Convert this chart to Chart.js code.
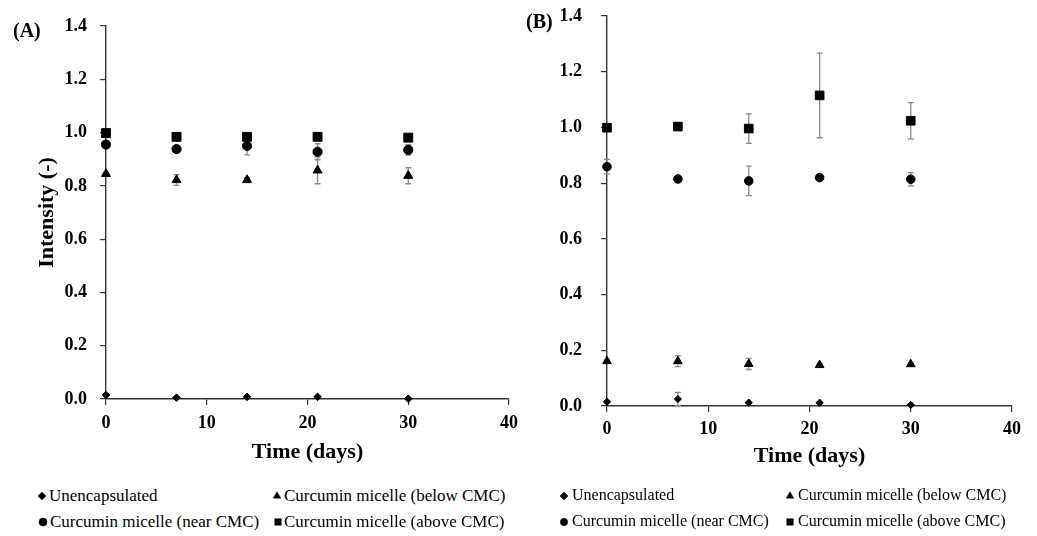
<!DOCTYPE html>
<html>
<head>
<meta charset="utf-8">
<script src="https://cdn.jsdelivr.net/npm/chart.js@4/dist/chart.umd.min.js"></script>
<style>
  html, body { margin: 0; padding: 0; background: #fff; }
  #wrap { position: relative; width: 1037px; height: 536px; overflow: hidden; background: #fff; }
  canvas { position: absolute; top: 0; }
  .panel-label { position: absolute; font: bold 20px "Liberation Serif", "Times New Roman", serif; color: #000; line-height: 1; }
  .leg { position: absolute; font-family: "Liberation Serif", "Times New Roman", serif; color: #000; white-space: nowrap; line-height: 1; }
</style>
</head>
<body>
<div id="wrap">
  <canvas id="chartA" width="518" height="470" style="left:0px"></canvas>
  <canvas id="chartB" width="519" height="470" style="left:518px"></canvas>
  <div class="panel-label" style="left:13px; top:20px">(A)</div>
  <div class="panel-label" style="left:526px; top:11px">(B)</div>
</div>
<script>
// ---------- data ----------
const days = [0, 7, 14, 21, 30];
const seriesNames = ['Unencapsulated', 'Curcumin micelle (below CMC)', 'Curcumin micelle (near CMC)', 'Curcumin micelle (above CMC)'];
const xTickLabels = ['0', '10', '20', '30', '40'];
const yTickLabels = ['0.0', '0.2', '0.4', '0.6', '0.8', '1.0', '1.2', '1.4'];

// Panel (A)
const aUnencap = [0.015, 0.005, 0.008, 0.008, 0.001];
const aBelow   = [0.845, 0.822, 0.822, 0.858, 0.838];
const aNear    = [0.955, 0.938, 0.950, 0.928, 0.935];
const aAbove   = [0.998, 0.984, 0.984, 0.984, 0.981];
const aUnencapErr = [0.003, 0.003, 0.003, 0.003, 0.003];
const aBelowErr   = [0.005, 0.020, 0.008, 0.050, 0.030];
const aNearErr    = [0.005, 0.005, 0.034, 0.030, 0.020];
const aAboveErr   = [0.002, 0.005, 0.010, 0.005, 0.005];

// Panel (B)
const bUnencap = [0.015, 0.025, 0.012, 0.012, 0.004];
const bBelow   = [0.161, 0.161, 0.151, 0.147, 0.150];
const bNear    = [0.859, 0.815, 0.808, 0.820, 0.814];
const bAbove   = [0.999, 1.003, 0.996, 1.115, 1.024];
const bUnencapErr = [0.004, 0.024, 0.004, 0.004, 0.003];
const bBelowErr   = [0.005, 0.020, 0.020, 0.006, 0.006];
const bNearErr    = [0.026, 0.006, 0.053, 0.006, 0.024];
const bAboveErr   = [0.003, 0.006, 0.053, 0.152, 0.065];

// ---------- styles ----------
const pointStyles = ['rectRot', 'triangle', 'circle', 'rect'];
const pointRadiiA = [3.8, 5.2, 4.6, 6.3];
const pointRadiiB = [3.6, 5.0, 4.3, 6.1];

function toPoints(vals) { return days.map((d, i) => ({ x: d, y: vals[i] })); }

function makeDatasets(valsList, errList, radii) {
  return valsList.map((vals, k) => ({
    label: seriesNames[k],
    data: toPoints(vals),
    errorBars: errList[k],
    showLine: false,
    pointStyle: pointStyles[k],
    pointRadius: radii[k],
    pointHoverRadius: radii[k],
    backgroundColor: '#000',
    borderColor: '#000',
    borderWidth: 1,
    clip: false
  }));
}

const errorBarPlugin = {
  id: 'errorBars',
  beforeDatasetsDraw(chart) {
    const ctx = chart.ctx;
    const xs = chart.scales.x, ys = chart.scales.y;
    ctx.save();
    ctx.strokeStyle = '#8a8a8a';
    ctx.lineWidth = 1.3;
    chart.data.datasets.forEach(ds => {
      if (!ds.errorBars) return;
      ds.data.forEach((p, i) => {
        const e = ds.errorBars[i];
        if (!e) return;
        const px = xs.getPixelForValue(p.x);
        const y1 = ys.getPixelForValue(p.y + e);
        const y2 = ys.getPixelForValue(Math.max(0, p.y - e));
        ctx.beginPath();
        ctx.moveTo(px, y1); ctx.lineTo(px, y2);
        ctx.moveTo(px - 3, y1); ctx.lineTo(px + 3, y1);
        ctx.moveTo(px - 3, y2); ctx.lineTo(px + 3, y2);
        ctx.stroke();
      });
    });
    ctx.restore();
  }
};

const serif = '"Liberation Serif", "Times New Roman", serif';

function makeChart(id, datasets, cfg) {
  return new Chart(document.getElementById(id), {
    type: 'scatter',
    data: { datasets },
    plugins: [errorBarPlugin],
    options: {
      responsive: false,
      animation: false,
      devicePixelRatio: 1,
      layout: { padding: cfg.padding },
      plugins: { legend: { display: false }, tooltip: { enabled: false }, title: { display: false } },
      scales: {
        x: {
          type: 'linear', min: 0, max: 40,
          afterBuildTicks(scale) { scale.ticks = xTickLabels.map(v => ({ value: Number(v) })); },
          ticks: {
            color: '#000', padding: cfg.xTickPad, maxRotation: 0,
            font: { family: serif, size: 18, weight: 'bold' },
            callback: (v, i) => xTickLabels[i]
          },
          grid: { display: true, drawOnChartArea: false, drawTicks: true, tickLength: 6, color: '#333', lineWidth: 1.2 },
          border: { display: true, color: '#333', width: 1.4 },
          title: { display: true, text: 'Time (days)', color: '#000', padding: 0, font: { family: serif, size: 22, weight: 'bold' } },
          afterFit(scale) { scale.height = cfg.xHeight; scale.paddingLeft = 0; scale.paddingRight = 0; scale.paddingTop = 0; scale.paddingBottom = 0; }
        },
        y: {
          type: 'linear', min: 0, max: 1.4,
          afterBuildTicks(scale) { scale.ticks = yTickLabels.map(v => ({ value: Number(v) })); },
          ticks: {
            color: '#000', padding: cfg.yTickPad,
            font: { family: serif, size: 18, weight: 'bold' },
            callback: (v, i) => yTickLabels[i]
          },
          grid: { display: true, drawOnChartArea: false, drawTicks: true, tickLength: 6, color: '#333', lineWidth: 1.2 },
          border: { display: true, color: '#333', width: 1.4 },
          title: { display: cfg.yTitle, text: 'Intensity (-)', color: '#000', padding: 0, font: { family: serif, size: 22, weight: 'bold' } },
          afterFit(scale) { scale.width = cfg.yWidth; scale.paddingLeft = 0; scale.paddingRight = 0; scale.paddingTop = 0; scale.paddingBottom = 0; }
        }
      }
    }
  });
}

makeChart('chartA',
  makeDatasets([aUnencap, aBelow, aNear, aAbove], [aUnencapErr, aBelowErr, aNearErr, aAboveErr], pointRadiiA),
  { padding: { left: 34, right: 9, top: 26, bottom: 4 }, yWidth: 72, xHeight: 67, xTickPad: 8, yTickPad: 13, yTitle: true });

makeChart('chartB',
  makeDatasets([bUnencap, bBelow, bNear, bAbove], [bUnencapErr, bBelowErr, bNearErr, bAboveErr], pointRadiiB),
  { padding: { left: 0, right: 25, top: 16, bottom: 0 }, yWidth: 89, xHeight: 64, xTickPad: 7, yTickPad: 19, yTitle: false });

// ---------- legends (HTML text, markers drawn with Chart.js point helper) ----------
const legendLayouts = [
  { font: 17, items: [[42, 496, 49], [277, 496, 284], [43, 522, 50], [278, 522, 284]], radii: [4, 4.3, 4, 4.6] },
  { font: 16, items: [[564, 496, 572], [790, 496, 798], [564, 522, 572], [790, 522, 798]], radii: [4, 4.3, 3.7, 4.6] }
];
const wrap = document.getElementById('wrap');
legendLayouts.forEach(L => {
  seriesNames.forEach((name, k) => {
    const [mx, my, tx] = L.items[k];
    const c = document.createElement('canvas');
    c.width = 14; c.height = 14;
    c.style.position = 'absolute';
    c.style.left = (mx - 7) + 'px';
    c.style.top = (my - 7) + 'px';
    wrap.appendChild(c);
    const cx = c.getContext('2d');
    cx.fillStyle = '#000'; cx.strokeStyle = '#000'; cx.lineWidth = 0.5;
    Chart.helpers.drawPoint(cx, { pointStyle: pointStyles[k], radius: L.radii[k], rotation: 0, borderWidth: 0.5 }, 7, 7);
    const t = document.createElement('div');
    t.className = 'leg';
    t.textContent = name;
    t.style.fontSize = L.font + 'px';
    t.style.left = tx + 'px';
    t.style.top = (my - L.font * 0.55) + 'px';
    wrap.appendChild(t);
  });
});
</script>
</body>
</html>
